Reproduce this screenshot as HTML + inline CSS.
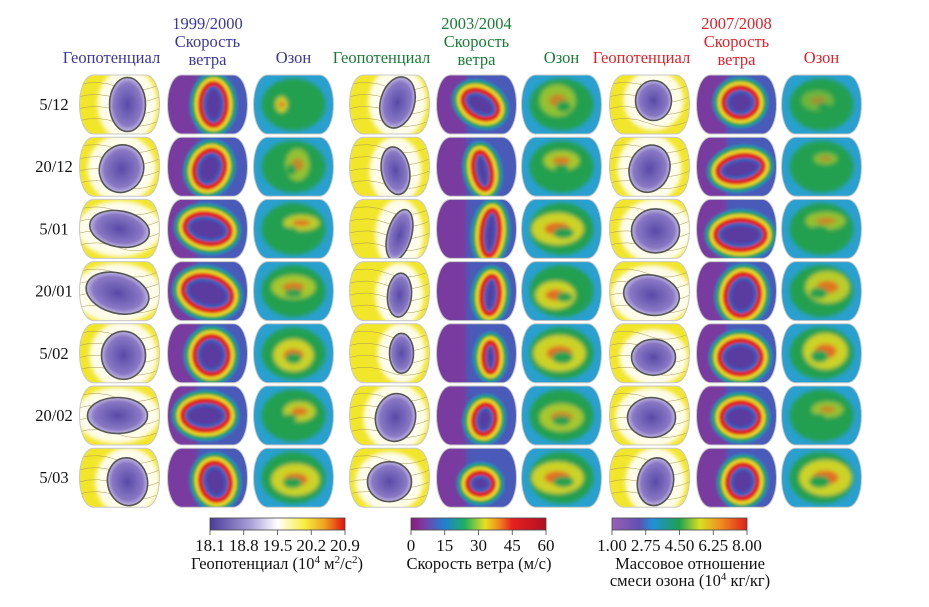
<!DOCTYPE html>
<html><head><meta charset="utf-8">
<style>
html,body{margin:0;padding:0;background:#fff;}
svg text{font-family:"Liberation Serif","DejaVu Serif",serif;}
</style></head>
<body>
<svg id="fig" width="929" height="602" viewBox="0 0 929 602" xmlns="http://www.w3.org/2000/svg" font-family="Liberation Serif, serif">
<defs>
<filter id="blur" x="-20%" y="-20%" width="140%" height="140%"><feGaussianBlur stdDeviation="2.2"/></filter>
<filter id="blur2" x="-20%" y="-20%" width="140%" height="140%"><feGaussianBlur stdDeviation="1.2"/></filter>
<radialGradient id="geoBg" cx="0.55" cy="0.5" r="0.6"><stop offset="0" stop-color="#ffffff"/><stop offset="0.4" stop-color="#fcf8c0"/><stop offset="0.65" stop-color="#f6ec30"/><stop offset="1" stop-color="#efe020"/></radialGradient>
<radialGradient id="geoBlob" cx="0.5" cy="0.5" r="0.55"><stop offset="0" stop-color="#5a4aa8"/><stop offset="0.7" stop-color="#8878c4"/><stop offset="1" stop-color="#d8d0ee"/></radialGradient>
<linearGradient id="cbGeo"><stop offset="0" stop-color="#4a3c98"/><stop offset="0.3" stop-color="#a8a0d8"/><stop offset="0.5" stop-color="#ffffff"/><stop offset="0.7" stop-color="#f8ee40"/><stop offset="0.85" stop-color="#f0a020"/><stop offset="1" stop-color="#e01010"/></linearGradient>
<linearGradient id="cbWind"><stop offset="0" stop-color="#8a1a7a"/><stop offset="0.1" stop-color="#7a40a8"/><stop offset="0.25" stop-color="#2080d0"/><stop offset="0.4" stop-color="#20b060"/><stop offset="0.55" stop-color="#e8e020"/><stop offset="0.65" stop-color="#f08a20"/><stop offset="0.75" stop-color="#e82020"/><stop offset="1" stop-color="#b01020"/></linearGradient>
<linearGradient id="cbOz"><stop offset="0" stop-color="#9a60b8"/><stop offset="0.2" stop-color="#6050b0"/><stop offset="0.3" stop-color="#2090d8"/><stop offset="0.5" stop-color="#20a050"/><stop offset="0.65" stop-color="#d8e020"/><stop offset="0.8" stop-color="#f09020"/><stop offset="1" stop-color="#e02020"/></linearGradient>
</defs>
<g id="maps"></g>
<g id="labels"></g>
</svg>
<script>
const rowLabels = ['5/12','20/12','5/01','20/01','5/02','20/02','5/03'];
const setYears = ['1999/2000','2003/2004','2007/2008'];
const setColors = ['#38389a','#1a7a34','#e0202a'];
// geopotential vortex blob per set per row: [dx, dy, rx, ry, rotation]
const geoS1 = [[8,0,18,27,0],[2,2,22,24,20],[0,0,30,18,10],[-2,2,32,20,15],[4,2,22,24,0],[-2,0,30,18,0],[8,4,20,24,-10]];
const geoS2 = [[8,-2,17,26,15],[6,4,14,24,-10],[10,6,12,26,15],[10,4,12,22,5],[12,0,12,20,0],[6,2,20,24,10],[0,4,22,20,0]];
const geoS3 = [[4,-4,18,20,0],[0,2,20,24,20],[6,2,24,22,0],[2,4,28,20,10],[4,4,22,18,0],[2,2,24,20,0],[6,4,18,24,10]];
// wind jet ring per set per row: [dx, dy, rx, ry, rotation]
const windS1 = [[6,0,16,24,0],[2,2,18,22,20],[0,0,26,18,10],[0,2,28,20,15],[4,2,20,22,0],[-2,0,26,18,0],[8,4,18,22,-10]];
const windS2 = [[4,0,22,16,30],[6,4,12,22,-10],[14,4,12,26,5],[14,4,12,22,5],[14,4,10,18,0],[8,4,14,18,10],[4,6,16,14,0]];
const windS3 = [[4,-2,20,18,0],[4,2,26,16,-10],[4,6,28,18,0],[6,4,20,24,10],[4,4,24,20,0],[4,2,22,18,0],[6,4,18,20,10]];
// ozone high-patch per set per row: [dx, dy, rx, ry, intensity]
const ozS1 = [[-12,0,6,8,0.9],[4,-2,12,16,0.6],[8,-6,18,8,0.8],[0,-4,22,12,0.7],[0,2,20,16,0.9],[6,-4,16,10,0.8],[2,2,24,16,0.9]];
const ozS2 = [[-4,-4,18,16,0.6],[0,-6,18,10,0.7],[-4,0,26,16,0.9],[-6,4,20,14,0.9],[-2,0,26,18,0.9],[0,2,22,14,0.7],[-4,0,26,16,0.9]];
const ozS3 = [[-4,-4,16,10,0.4],[4,-8,12,6,0.5],[4,-8,20,9,0.6],[6,-4,22,16,0.8],[4,-2,22,18,0.9],[6,-6,16,8,0.6],[4,0,26,18,0.9]];

const colX = [78,166,252,348,435,520,608,695,780];
const MW = 83, MH = 59, ROW0 = 75, ROWSTEP = 62.2;
const NS = 'http://www.w3.org/2000/svg';
const maps = document.getElementById('maps');
const labs = document.getElementById('labels');
function el(tag, attrs, parent){const e=document.createElementNS(NS,tag);for(const k in attrs)e.setAttribute(k,attrs[k]);parent.appendChild(e);return e;}
function shape(x,y){return `M${x+15},${y} L${x+MW-15},${y} C${x+MW+3},${y+2} ${x+MW+3},${y+MH-2} ${x+MW-15},${y+MH} L${x+15},${y+MH} C${x-3},${y+MH-2} ${x-3},${y+2} ${x+15},${y} Z`;}
const geoSets=[geoS1,geoS2,geoS3], windSets=[windS1,windS2,windS3], ozSets=[ozS1,ozS2,ozS3];
let cid=0;
for(let s=0;s<3;s++){
 for(let r=0;r<7;r++){
  const y=ROW0+r*ROWSTEP;
  {
   const x=colX[s*3], cx=x+MW/2, cy=y+MH/2; const id='c'+(cid++);
   const cp=el('clipPath',{id},maps); el('path',{d:shape(x,y)},cp);
   const g=el('g',{'clip-path':`url(#${id})`},maps);
   
   
   el('rect',{x:x-2,y:y-2,width:MW+4,height:MH+4,fill:'#f2e62a'},g);
   const b=geoSets[s][r];
   el('ellipse',{cx:cx+b[0],cy:cy+b[1],rx:b[2]+12,ry:b[3]+10,fill:'#ffffff',filter:'url(#blur)','fill-opacity':0.9},g);
   for(let k=0;k<4;k++) el('path',{d:`M${x} ${y+10+k*12} q20 -6 40 2 t43 -3`,stroke:'#a89850','stroke-width':0.5,fill:'none'},g);
   el('ellipse',{cx:cx+b[0],cy:cy+b[1],rx:b[2],ry:b[3],transform:`rotate(${b[4]} ${cx+b[0]} ${cy+b[1]})`,fill:'url(#geoBlob)',stroke:'#555','stroke-width':1.6},g);
   el('path',{d:shape(x,y),fill:'none',stroke:'#c8c8c8','stroke-width':1},maps);
  }
  {
   const x=colX[s*3+1], cx=x+MW/2, cy=y+MH/2; const id='c'+(cid++);
   const cp=el('clipPath',{id},maps); el('path',{d:shape(x,y)},cp);
   const g=el('g',{'clip-path':`url(#${id})`},maps);
   
   
   el('rect',{x:x-2,y:y-2,width:MW+4,height:MH+4,fill:'#4a5ab8'},g);
   el('rect',{x:x-6,y:y-2,width:MW*0.45,height:MH+4,fill:'#7a3aa0',filter:'url(#blur)'},g);
   const w=windSets[s][r], ex=cx+w[0], ey=cy+w[1], t=`rotate(${w[4]} ${ex} ${ey})`;
   const gg=el('g',{filter:'url(#blur2)'},g);
   el('ellipse',{cx:ex,cy:ey,rx:w[2]+6,ry:w[3]+6,fill:'none',stroke:'#2890c0','stroke-width':4,transform:t},gg);
   el('ellipse',{cx:ex,cy:ey,rx:w[2]+4,ry:w[3]+4,fill:'none',stroke:'#20a050','stroke-width':4,transform:t},gg);
   el('ellipse',{cx:ex,cy:ey,rx:w[2]+1,ry:w[3]+1,fill:'none',stroke:'#e8d820','stroke-width':4,transform:t},gg);
   el('ellipse',{cx:ex,cy:ey,rx:w[2]-3,ry:w[3]-3,fill:'#2a60c0',stroke:'#e02020','stroke-width':5,transform:t},gg);
   el('ellipse',{cx:ex,cy:ey,rx:Math.max(2,w[2]-9),ry:Math.max(2,w[3]-9),fill:'#5a3aa0',transform:t},gg);
   el('path',{d:shape(x,y),fill:'none',stroke:'#c8c8c8','stroke-width':1},maps);
  }
  {
   const x=colX[s*3+2], cx=x+MW/2, cy=y+MH/2; const id='c'+(cid++);
   const cp=el('clipPath',{id},maps); el('path',{d:shape(x,y)},cp);
   const g=el('g',{'clip-path':`url(#${id})`},maps);
   
   
   el('rect',{x:x-2,y:y-2,width:MW+4,height:MH+4,fill:'#2aa0d0'},g);
   const o=ozSets[s][r];
   const gg=el('g',{filter:'url(#blur)'},g);
   el('ellipse',{cx:cx,cy:cy,rx:32,ry:26,fill:'#20a050'},gg);
   el('ellipse',{cx:cx+o[0],cy:cy+o[1],rx:o[2],ry:o[3],fill:'#e0d820','fill-opacity':o[4]},gg);
   el('ellipse',{cx:cx+o[0],cy:cy+o[1],rx:o[2]*0.5,ry:o[3]*0.4,fill:'#e86020','fill-opacity':o[4]},gg);
   el('ellipse',{cx:cx-o[0]*0.5,cy:cy+o[1]*0.5+4,rx:o[2]*0.4,ry:o[3]*0.35,fill:'#20a050'},gg);
   el('path',{d:shape(x,y),fill:'none',stroke:'#c8c8c8','stroke-width':1},maps);
  }
 }
}
function txt(x,y,s,opt,name){const t=el('text',Object.assign({x,y,'font-size':16.5,'text-anchor':'middle',fill:'#111','font-family':'Liberation Serif, serif'},opt||{}),labs);t.textContent=s;
 
 return t;}
rowLabels.forEach((l,r)=>txt(54,ROW0+r*ROWSTEP+35,l,{fill:'#111'},'row-label-'+(r+1)));
for(let s=0;s<3;s++){
 const c=setColors[s];
 txt(colX[s*3]+MW/2-8,63,'Геопотенциал',{fill:c},'header-geopotential-'+(s+1));
 txt(colX[s*3+1]+MW/2,29,setYears[s],{fill:c},'header-year-'+(s+1));
 txt(colX[s*3+1]+MW/2,47,'Скорость',{fill:c},'header-wind-'+(s+1));
 txt(colX[s*3+1]+MW/2,65,'ветра',{fill:c},'header-wind2-'+(s+1));
 txt(colX[s*3+2]+MW/2,63,'Озон',{fill:c},'header-ozone-'+(s+1));
}
const geoTicks=['18.1','18.8','19.5','20.2','20.9'];
const windTicks=['0','15','30','45','60'];
const ozTicks=['1.00','2.75','4.50','6.25','8.00'];
const bars=[[210,'url(#cbGeo)',geoTicks,'geopotential'],[411,'url(#cbWind)',windTicks,'wind'],[612,'url(#cbOz)',ozTicks,'ozone']];
bars.forEach(([bx,fill,ticks,nm])=>{
 const W=135;
 const r=el('rect',{x:bx,y:518,width:W,height:12,fill,stroke:'#444','stroke-width':0.8},labs);
 
 
 ticks.forEach((t,i)=>{const tx=bx+i*W/(ticks.length-1);
  el('line',{x1:tx,y1:530,x2:tx,y2:535,stroke:'#444','stroke-width':0.8},labs);
  txt(tx,551,t,{'font-size':17},nm+'-tick-'+i);});
});
const t1=txt(277,569,'',{'font-size':16.5},'geopotential-colorbar-title');
t1.innerHTML='Геопотенциал (10<tspan dy="-6" font-size="11">4</tspan><tspan dy="6"> м</tspan><tspan dy="-6" font-size="11">2</tspan><tspan dy="6">/с</tspan><tspan dy="-6" font-size="11">2</tspan><tspan dy="6">)</tspan>';
txt(479,569,'Скорость ветра (м/с)',{'font-size':16.5},'wind-colorbar-title');
txt(690,569,'Массовое отношение',{'font-size':16.5},'ozone-colorbar-title');
const t3=txt(690,586,'',{'font-size':16.5},'ozone-colorbar-title-2');
t3.innerHTML='смеси озона (10<tspan dy="-6" font-size="11">4</tspan><tspan dy="6"> кг/кг)</tspan>';
</script>
</body></html>
